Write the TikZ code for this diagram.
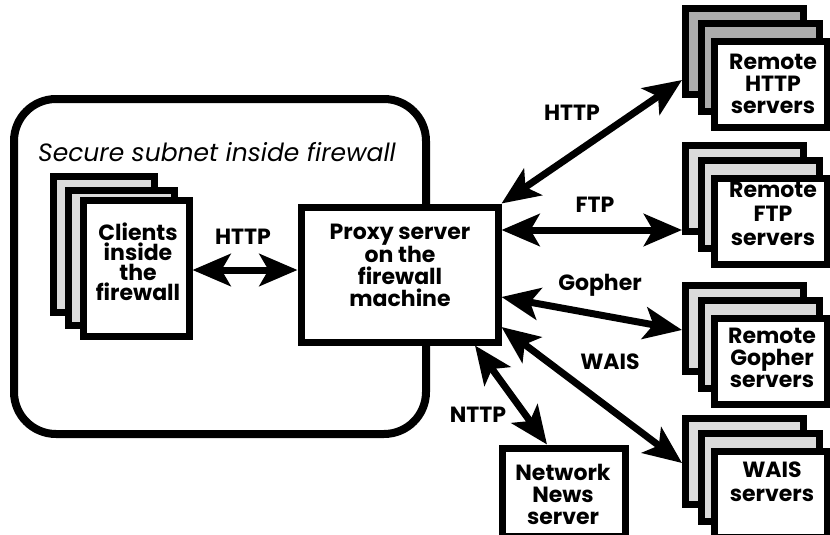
\documentclass[tikz,border=0pt]{standalone}
\usepackage{fontspec}
\setsansfont{Poppins}
\usetikzlibrary{arrows.meta,fit,calc}
\tikzset{
  box/.style={draw, line width=7pt, fill=white, inner sep=0pt},
  lightback/.style={box, fill=gray!28},
  darkback/.style={box, fill=gray!65},
  boxtext/.style={font=\sffamily\bfseries\fontsize{22}{22}\selectfont, align=center, inner sep=0pt},
  proto/.style={font=\sffamily\bfseries\fontsize{22}{22}\selectfont, inner sep=0pt},
  con/.style={line width=7pt,
    {Stealth[length=38pt,width=32pt,inset=9pt]}-{Stealth[length=38pt,width=32pt,inset=9pt]}},
}
\newcommand\srvstack[3]{%
  \node[#3, fit={(685.5,#2+3.5) (803.5,#2+89.5)}] (#1b) {};
  \node[#3, fit={(701.5,#2+18.5) (819.5,#2+106.5)}] (#1m) {};
  \node[box, fit={(714.5,#2+36.5) (827.5,#2+122.5)}] (#1) {};
}
\begin{document}
\begin{tikzpicture}[x=1pt,y=-1pt]
\useasboundingbox (0,0) rectangle (830,535);
% secure subnet
\draw[line width=8pt, rounded corners=42pt] (14,99) rectangle (426,434);
\node[anchor=west, inner sep=0pt, font=\sffamily\itshape\fontsize{25}{25}\selectfont] (subnet) at (38,152) {Secure subnet inside firewall};
% clients stack
\node[lightback, fit={(53,176) (154,312)}] (cb) {};
\node[lightback, fit={(68,190) (174,325)}] (cm) {};
\node[box, fit={(83,200) (189,336)}] (clients) {};
\node[boxtext, font=\sffamily\bfseries\fontsize{22}{20}\selectfont] (clientsT) at (138,262) {Clients\\inside\\the\\firewall};
% proxy
\node[box, fit={(301,207) (498,342)}] (proxy) {};
\node[boxtext] (proxyT) at (400,265) {Proxy server\\on the\\firewall\\machine};
% remote stacks
\srvstack{http}{5}{darkback}
\node[boxtext] (httpT) at (773,84) {Remote\\HTTP\\servers};
\srvstack{ftp}{142}{lightback}
\node[boxtext, font=\sffamily\bfseries\fontsize{22}{24}\selectfont] (ftpT) at (773,214) {Remote\\FTP\\servers};
\srvstack{gopher}{282}{lightback}
\node[boxtext] (gopherT) at (772,358) {Remote\\Gopher\\servers};
\srvstack{wais}{415}{lightback}
\node[boxtext, font=\sffamily\bfseries\fontsize{22}{24}\selectfont] (waisT) at (772,482) {WAIS\\servers};
% network news
\node[box, fit={(502,448) (625,536)}] (news) {};
\node[boxtext] (newsT) at (563,494) {Network\\News\\server};
% endpoints
\coordinate (pH) at (proxy.north east);
\coordinate (pF) at (proxy.east |- 0,230);
\coordinate (pG) at (proxy.east |- 0,297);
\coordinate (pW) at (proxy.east |- 0,327);
\coordinate (pN) at (proxy.south west -| 475,0);
\coordinate (rH) at (httpb.west |- 0,80);
\coordinate (rF) at (ftpb.west |- 0,230);
\coordinate (rG) at (gopherb.west |- 0,330);
\coordinate (rW) at (waisb.west |- 0,463);
\coordinate (rN) at (news.north -| 547,0);
% connectors
\draw[con] (clients.east |- 0,270) -- (proxy.west |- 0,270);
\draw[con] (pH) -- (rH);
\draw[con] (pF) -- (rF);
\draw[con] (pG) -- (rG);
\draw[con] (pW) -- (rW);
\draw[con] (pN) -- (rN);
% protocol labels
\node[proto] (l1) at (243,237) {HTTP};
\node[proto] (l2) at (572,113) {HTTP};
\node[proto] (l3) at (595,205) {FTP};
\node[proto] (l4) at (600,285) {Gopher};
\node[proto] (l5) at (610,362) {WAIS};
\node[proto] (l6) at (478,415) {NTTP};
\end{tikzpicture}
\end{document}
